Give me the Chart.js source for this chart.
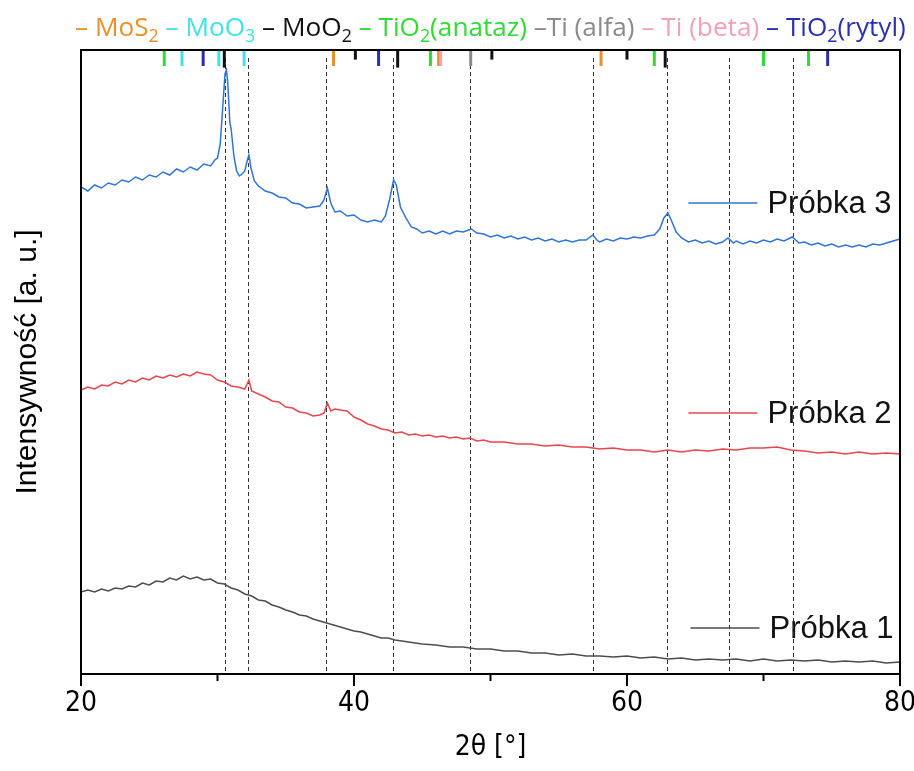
<!DOCTYPE html>
<html lang="pl">
  <head>
    <meta charset="UTF-8" />
    <title>XRD - Próbki 1-3</title>
    <style>
      body { margin: 0; background: #fff; }
      #chart { display: block; }
    </style>
  </head>
  <body>
    <canvas id="chart" width="914" height="771"></canvas>

    <script src="https://cdn.jsdelivr.net/npm/chart.js"></script>
    <script>
      // 2theta [deg], intensity [a.u.]
      const probka3 = [
        [20,487],[20.5,483],[21,489],[21.5,486],[22,491],[22.5,489],[23,494],[23.5,492],[24,497],[24.5,494],
        [25,499],[25.5,497],[26,502],[26.5,499],[27,505],[27.5,502],[28,507],[28.5,504],[29,510],[29.5,508],
        [29.8,514],[30,516],[30.2,530],[30.4,570],[30.55,600],[30.65,604],[30.75,592],[30.9,552],[31,545],
        [31.2,518],[31.4,503],[31.6,498],[31.8,500],[32,503],[32.15,512],[32.3,519],[32.45,506],[32.7,493],
        [33,488],[33.5,483],[34,481],[34.5,477],[35,476],[35.5,471],[36,470],[36.5,466],[37,467],[37.5,468],
        [37.8,474],[38.05,486],[38.3,471],[38.6,462],[39,463],[39.5,458],[40,459],[40.5,454],[41,452],
        [41.5,454],[42,452],[42.3,458],[42.6,474],[42.9,494],[43.1,489],[43.4,467],[43.8,456],[44.2,447],
        [44.6,445],[45,441],[45.5,443],[46,440],[46.5,443],[47,440],[47.5,443],[48,442],[48.6,445],[49,441],
        [49.5,440],[50,437],[50.5,439],[51,436],[51.5,438],[52,435],[52.5,437],[53,434],[53.5,436],[54,433],
        [54.5,435],[55,432],[55.5,434],[56,432],[56.5,434],[57,434],[57.5,439],[57.8,434],[58,432],[58.5,435],
        [59,433],[59.5,436],[60,435],[60.5,437],[61,436],[61.5,438],[62,439],[62.4,445],[62.7,456],[63,461],
        [63.3,452],[63.6,442],[64,436],[64.5,432],[65,434],[65.5,431],[66,433],[66.5,430],[67,432],[67.4,436],
        [67.8,431],[68,433],[68.5,430],[69,433],[69.5,431],[70,434],[70.5,432],[71,435],[71.5,433],[72.1,437],
        [72.6,431],[73,432],[73.5,429],[74,431],[74.5,428],[75,430],[75.5,427],[76,429],[76.5,427],[77,429],
        [77.5,427],[78,430],[78.5,429],[79,431],[79.5,433],[80,435]
      ];
      const probka2 = [
        [20,284],[20.5,287],[21,285],[21.5,289],[22,288],[22.5,292],[23,290],[23.5,294],[24,292],[24.5,296],
        [25,294],[25.5,298],[26,296],[26.5,299],[27,297],[27.5,300],[28,298],[28.5,302],[29,300],[29.5,299],
        [30,294],[30.5,292],[31,288],[31.5,287],[32,285],[32.3,294],[32.5,283],[33,280],[33.5,277],[34,273],
        [34.5,272],[35,267],[35.5,266],[36,262],[36.5,261],[37,258],[37.5,259],[37.8,261],[38.05,271],
        [38.3,263],[38.6,265],[39,264],[39.5,263],[40,257],[40.5,254],[41,250],[41.5,248],[42,245],[42.5,244],
        [43,241],[43.5,242],[44,239],[44.5,240],[45,238],[45.5,239],[46,237],[46.5,238],[47,236],[47.5,237],
        [48,235],[48.5,236],[49,233],[49.5,234],[50,232],[51,232],[52,230],[53,230],[54,228],[55,229],[56,227],
        [57,227],[58,225],[59,226],[60,224],[61,224],[62,222],[63,224],[64,222],[65,224],[66,223],[67,225],
        [68,224],[69,226],[70,226],[71,227],[72,224],[73,223],[74,221],[75,222],[76,220],[77,222],[78,220],
        [79,221],[80,220]
      ];
      const probka1 = [
        [20,82],[20.5,84],[21,82],[21.5,85],[22,83],[22.5,86],[23,85],[23.5,88],[24,87],[24.5,91],[25,89],
        [25.5,93],[26,92],[26.5,96],[27,94],[27.5,98],[28,95],[28.5,97],[29,94],[29.5,95],[30,91],[30.5,90],
        [31,86],[31.5,84],[32,80],[32.5,78],[33,74],[33.5,73],[34,69],[34.5,67],[35,64],[35.5,62],[36,59],
        [36.5,58],[37,55],[37.5,53],[38,51],[38.5,49],[39,47],[39.5,45],[40,43],[40.5,42],[41,40],[41.5,38],
        [42,36],[42.5,36],[43,34],[43.5,33],[44,32],[45,30],[46,29],[47,27],[48,27],[49,25],[50,25],[51,23],
        [52,23],[53,21],[54,21],[55,19],[56,20],[57,18],[58,18],[59,17],[60,18],[61,16],[62,17],[63,15],
        [64,16],[65,14],[66,15],[67,14],[68,15],[69,13],[70,15],[71,13],[72,14],[73,13],[74,14],[75,12],
        [76,13],[77,12],[78,13],[79,11],[80,12]
      ];

      const seriesNames = ['Próbka 1', 'Próbka 2', 'Próbka 3'];

      // reference phases (top legend + stick markers), "_n" = subscript
      const phaseNames = ['MoS_2', 'MoO_3', 'MoO_2', 'TiO_2(anataz)', 'Ti (alfa)', 'Ti (beta)', 'TiO_2(rytyl)'];
      const phaseLines = [
        [38.5, 46.2, 58.1],
        [27.4, 30.1, 31.95],
        [30.5, 40.1, 43.2, 50.1, 60.0, 62.8],
        [26.1, 45.6, 62.0, 70.0, 73.3],
        [48.55],
        [46.35],
        [28.95, 41.8, 74.7]
      ];
      // relative stick intensity (only MoO2 has weak ones)
      const phaseIntensity = [
        [100, 100, 100],
        [100, 100, 100],
        [110, 60, 110, 60, 60, 110],
        [100, 100, 100, 100, 100],
        [100],
        [100],
        [100, 100, 100]
      ];
      const peakPositions = [30.55, 32.2, 37.95, 42.85, 48.5, 57.5, 62.95, 67.45, 72.15];
      const xTicks = [20, 30, 40, 50, 60, 70, 80];

      const phaseColors = ['#e8912c', '#3fe3e8', '#111111', '#2fdc33', '#8a8a8a', '#f2a3b3', '#2a2fb0'];
      const seriesColors = ['#4d4d4d', '#e8464e', '#2f74d6'];
      const labelAt = [[64.65, 628], [64.5, 413], [64.5, 203]]; // 2theta of sample line start, pixel y

      const fontMain = "'Liberation Sans', Arial, sans-serif";
      const fontNarrow = "'DejaVu Sans Condensed', 'Liberation Sans', Arial, sans-serif";
      const fontLegend = "'Open Sans', 'Noto Sans', sans-serif";

      const decorPlugin = {
        id: 'decor',
        beforeDatasetsDraw(chart) {
          const { ctx, chartArea: a, scales: { x } } = chart;
          ctx.save();
          // sample labels
          ctx.font = '31px ' + fontMain;
          ctx.textBaseline = 'middle';
          seriesNames.forEach((name, i) => {
            const x0 = x.getPixelForValue(labelAt[i][0]);
            const y0 = labelAt[i][1];
            ctx.strokeStyle = seriesColors[i];
            ctx.lineWidth = 1.3;
            ctx.beginPath();
            ctx.moveTo(x0, y0);
            ctx.lineTo(x0 + 69, y0);
            ctx.stroke();
            ctx.fillStyle = '#111';
            ctx.fillText(name, x0 + 79, y0 + 1);
          });
          // dashed peak guides
          ctx.setLineDash([4, 3]);
          ctx.lineWidth = 1;
          ctx.strokeStyle = '#333';
          peakPositions.forEach(p => {
            const px = Math.round(x.getPixelForValue(p)) + 0.5;
            ctx.beginPath();
            ctx.moveTo(px, a.top + 8);
            ctx.lineTo(px, a.bottom);
            ctx.stroke();
          });
          ctx.restore();
        },
        afterDraw(chart) {
          const { ctx, chartArea: a, scales: { x } } = chart;
          ctx.save();
          // stick markers hanging from the top frame
          ctx.lineWidth = 3;
          phaseLines.forEach((list, i) => {
            ctx.strokeStyle = phaseColors[i];
            list.forEach((p, j) => {
              const px = x.getPixelForValue(p);
              ctx.beginPath();
              ctx.moveTo(px, a.top);
              ctx.lineTo(px, a.top + 16 * phaseIntensity[i][j] / 100);
              ctx.stroke();
            });
          });
          // frame
          ctx.strokeStyle = '#000';
          ctx.lineWidth = 2;
          ctx.strokeRect(a.left, a.top, a.right - a.left, a.bottom - a.top);
          // x tick marks
          xTicks.forEach(v => {
            const px = x.getPixelForValue(v);
            ctx.beginPath();
            ctx.moveTo(px, a.bottom);
            ctx.lineTo(px, a.bottom + (v % 20 === 0 ? 12 : 7));
            ctx.stroke();
          });
          // top legend with subscripts
          const parts = [];
          phaseNames.forEach((n, i) => {
            const pre = i === 0 ? '– ' : (i === 4 ? ' –' : ' – ');
            const m = n.match(/^([^_]*)(?:_(\d))?(.*)$/);
            parts.push({ t: pre + m[1], c: phaseColors[i], sub: false });
            if (m[2]) parts.push({ t: m[2], c: phaseColors[i], sub: true });
            if (m[3]) parts.push({ t: m[3], c: phaseColors[i], sub: false });
          });
          const measure = size => parts.reduce((w, p) => {
            ctx.font = (p.sub ? size * 0.68 : size) + 'px ' + fontLegend;
            return w + ctx.measureText(p.t).width;
          }, 0);
          const size = 22 * (906 - 75) / measure(22);
          let cx = 75;
          ctx.textBaseline = 'alphabetic';
          parts.forEach(p => {
            ctx.font = (p.sub ? size * 0.68 : size) + 'px ' + fontLegend;
            ctx.fillStyle = p.c;
            ctx.fillText(p.t, cx, p.sub ? 42 : 36);
            cx += ctx.measureText(p.t).width;
          });
          ctx.restore();
        }
      };

      const toPoints = arr => arr.map(([x, y]) => ({ x, y }));

      new Chart(document.getElementById('chart'), {
        type: 'line',
        data: {
          datasets: [probka1, probka2, probka3].map((d, i) => ({
            label: seriesNames[i],
            data: toPoints(d),
            borderColor: seriesColors[i],
            borderWidth: 1.5,
            pointRadius: 0,
            tension: 0
          }))
        },
        options: {
          responsive: false,
          animation: false,
          layout: { padding: { top: 50, right: 14, left: 0, bottom: 0 } },
          plugins: { legend: { display: false }, tooltip: { enabled: false } },
          scales: {
            x: {
              type: 'linear',
              min: 20,
              max: 80,
              afterFit: s => { s.height = 97; s.paddingLeft = 0; s.paddingRight = 0; },
              afterBuildTicks: s => { s.ticks = xTicks.map(v => ({ value: v })); },
              ticks: {
                autoSkip: false,
                maxRotation: 0,
                padding: 13,
                color: '#000',
                font: { family: fontNarrow, size: 28 },
                callback: v => (v % 20 === 0 ? v : '')
              },
              grid: { display: false, drawTicks: false },
              border: { display: false },
              title: {
                display: true,
                text: '2θ [°]',
                color: '#000',
                font: { family: fontNarrow, size: 28 },
                padding: { top: 0, bottom: 6 }
              }
            },
            y: {
              min: 0,
              max: 624,
              afterFit: s => { s.width = 81; },
              ticks: { display: false },
              grid: { display: false, drawTicks: false },
              border: { display: false },
              title: {
                display: true,
                text: 'Intensywność [a. u.]',
                color: '#000',
                font: { family: fontMain, size: 30 },
                padding: { top: 10, bottom: 0 }
              }
            }
          }
        },
        plugins: [decorPlugin]
      });
    </script>
  </body>
</html>
